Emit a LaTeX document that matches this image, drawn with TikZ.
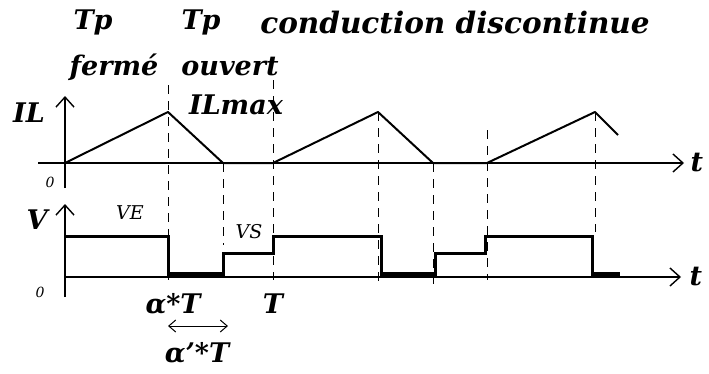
\documentclass[tikz,border=0pt]{standalone}
\usepackage{fontspec}
\setmainfont{DejaVu Serif}
\usetikzlibrary{arrows.meta}

\begin{document}
\begin{tikzpicture}[x=1pt,y=-1pt,
    >={Straight Barb[length=10pt,width=18pt]},
    lbl/.style={font=\fontsize{27}{29}\selectfont\bfseries\itshape, inner sep=0pt},
    small/.style={font=\fontsize{19}{21}\selectfont\itshape, inner sep=0pt},
    zero/.style={font=\fontsize{14}{16}\selectfont\itshape, inner sep=0pt},
    guide/.style={dash pattern=on 9pt off 7pt, line width=0.9pt},
    wave/.style={line width=2pt, line join=round},
    volt/.style={line width=3pt, line join=miter}]
  \useasboundingbox (0,0) rectangle (709,373);

   % Axes
    \coordinate (ILo) at (65,188);
    \coordinate (ILtop) at (65,96);
    \coordinate (tleft) at (38,163);
    \coordinate (tright) at (684,163);
    \coordinate (Vo) at (65,297);
    \coordinate (Vtop) at (65,204);
    \coordinate (Vright) at (681,277);
    \draw[->, line width=1.4pt] (ILo) -- (ILtop);
    \draw[->, line width=1.4pt] (tleft) -- (tright) node[lbl, right=6pt] (t1) {t};
    \draw[->, line width=1.4pt] (Vo) -- (Vtop);
    \draw[->, line width=1.4pt] (65,277) -- (Vright) node[lbl, right=8pt] (t2) {t};

    % Axis labels
    \node[lbl] (IL) at (29,113) {IL};
    \node[lbl] (V) at (37,220) {V};
    \node[zero] (zIL) at (50,182) {0};
    \node[zero] (zV) at (40,292) {0};

    % Dashed guides
    \draw[guide] (168,85) -- (168,280);
    \draw[guide] (223,163) -- (223,245);
    \draw[guide] (273,80) -- (273,280);
    \draw[guide] (378,112) -- (378,284);
    \draw[guide] (433,163) -- (433,285);
    \draw[guide] (487,130) -- (487,280);
    \draw[guide] (595,112) -- (595,232);

    % Inductor current IL (discontinuous conduction)
    \draw[wave] (65,163) -- (168,112) -- (223,163) -- (273,163)
      -- (378,112) -- (433,163) -- (487,163) -- (595,112) -- (618,135);

    % Voltage V
    \draw[volt] (65,236) -- (168,236) -- (168,274) -- (223,274) -- (223,253)
      -- (273,253) -- (273,236) -- (381,236) -- (381,274) -- (435,274)
      -- (435,253) -- (485,253) -- (485,236) -- (592,236) -- (592,274) -- (620,274);
    \draw[line width=5pt] (170,274) -- (222,274);
    \draw[line width=5pt] (383,274) -- (434,274);
    \draw[line width=5pt] (594,274) -- (620,274);

    % Labels
    \node[lbl] (Tp1) at (93,22) {Tp};
    \node[lbl] (ferme) at (114,67) {fermé};
    \node[lbl] (Tp2) at (201,22) {Tp};
    \node[lbl] (ouvert) at (230,67) {ouvert};
    \node[lbl] (ILmax) at (236,105) {ILmax};
    \node[lbl, font=\fontsize{29.5}{31}\selectfont\bfseries\itshape] (cd) at (455,22) {conduction discontinue};
    \node[small] (VE) at (130,213) {VE};
    \node[small] (VS) at (249,232) {VS};
    \node[lbl] (aT) at (173,304) {α*T};
    \node[lbl] (T) at (273,304) {T};
    \node[lbl] (apT) at (197,353) {α'*T};

    % Duration of the open phase
    \coordinate (da) at (168,326);
    \coordinate (db) at (228,326);
    \draw[<->, >={Straight Barb[length=7pt,width=12pt]}, line width=1pt] (da) -- (db);
  \end{tikzpicture}
\end{document}
